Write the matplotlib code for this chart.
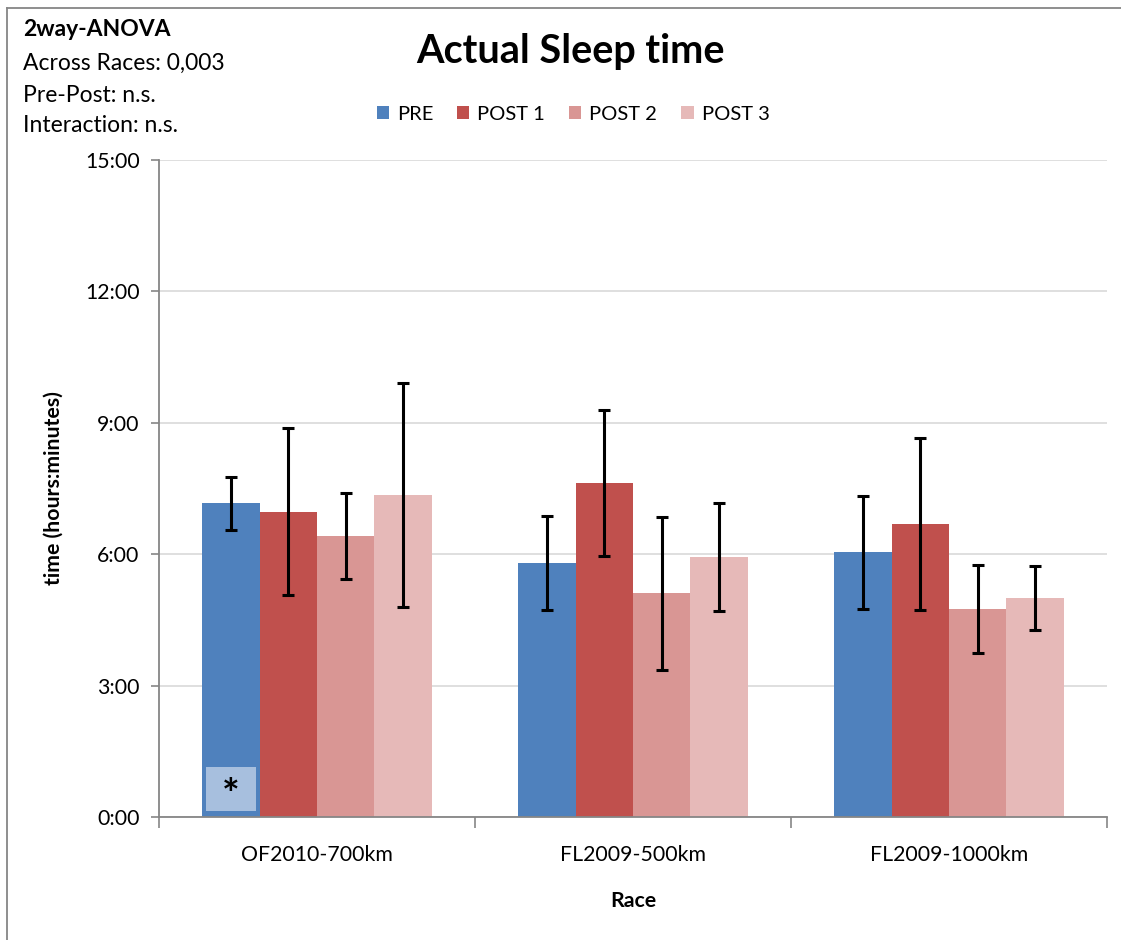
import matplotlib
matplotlib.use("Agg")
import matplotlib.pyplot as plt
import numpy as np
from matplotlib.ticker import FuncFormatter, FixedLocator
from matplotlib.patches import Rectangle
from matplotlib.lines import Line2D

plt.rcParams['font.family'] = ['Lato', 'DejaVu Sans']

races = ["OF2010-700km", "FL2009-500km", "FL2009-1000km"]
series = ["PRE", "POST 1", "POST 2", "POST 3"]
# values in hours
pre = [7.16, 5.80, 6.05]
post1 = [6.97, 7.62, 6.69]
post2 = [6.41, 5.11, 4.75]
post3 = [7.36, 5.93, 5.00]
pre_err = [0.60, 1.07, 1.29]
post1_err = [1.91, 1.67, 1.96]
post2_err = [0.98, 1.75, 1.00]
post3_err = [2.56, 1.23, 0.74]
colors = ["#4F81BD", "#C0504D", "#D99694", "#E6B9B8"]
yticks = [0, 3, 6, 9, 12, 15]

values = [pre, post1, post2, post3]
errs = [pre_err, post1_err, post2_err, post3_err]

fig = plt.figure(figsize=(11.21, 9.40), dpi=100)
ax = fig.add_axes([159/1121, 1-817/940, (1107-159)/1121, (817-160)/940])

n = len(series)
w = 1/5.5
x = np.arange(len(races))
for i in range(n):
    pos = x - 2*w + w/2 + i*w
    ax.bar(pos, values[i], width=w, color=colors[i], edgecolor='none', zorder=2)
    ax.errorbar(pos, values[i], yerr=errs[i], fmt='none', ecolor='black',
                elinewidth=2.2, capsize=4, capthick=2.2, zorder=3)

# asterisk box on first PRE bar
bx = x[0] - 2*w + w/2
ax.add_patch(Rectangle((bx - w*0.43, 0.14), w*0.86, 1.0, facecolor="#A7BFDE",
                       edgecolor='none', zorder=4))
ax.text(bx, 0.45, "*", ha='center', va='center', fontsize=30, fontweight='bold',
        color='black', zorder=5)

ax.set_xlim(-0.5, len(races) - 0.5)
ax.set_ylim(0, 15)
ax.yaxis.set_major_locator(FixedLocator(yticks))
ax.yaxis.set_major_formatter(FuncFormatter(lambda v, p: f"{int(v)}:{int(round((v % 1)*60)):02d}"))
ax.set_xticks(x)
ax.set_xticklabels(races, fontsize=15.3)
ax.xaxis.set_minor_locator(FixedLocator(np.arange(-0.5, len(races), 1.0)))
ax.tick_params(axis='x', which='major', length=0, pad=20)
ax.tick_params(axis='x', which='minor', length=8, color='#868686', width=1.2)
ax.tick_params(axis='y', length=6, color='#868686', width=1.2, labelsize=15.3, pad=8)
ax.grid(axis='y', color='#D9D9D9', linewidth=1.2, zorder=0)
ax.set_axisbelow(True)
for s in ['top', 'right']:
    ax.spines[s].set_visible(False)
for s in ['left', 'bottom']:
    ax.spines[s].set_color('#868686')
    ax.spines[s].set_linewidth(1.3)

ax.set_ylabel("time (hours:minutes)", fontsize=15.3, fontweight='bold')
ax.yaxis.set_label_coords((64-159)/948, 0.5)
ax.set_xlabel("Race", fontsize=15.3, fontweight='bold')
ax.xaxis.set_label_coords((633-159)/948, -(891-817)/657)

fig.text(570/1121, 1-52/940, "Actual Sleep time", ha='center', va='center',
         fontsize=28.5, fontweight='bold')

fig.text(23/1121, 1-30/940, "2way-ANOVA", ha='left', va='center', fontsize=16.5, fontweight='bold')
fig.text(23/1121, 1-63/940, "Across Races: 0,003", ha='left', va='center', fontsize=16.5)
fig.text(23/1121, 1-95/940, "Pre-Post: n.s.", ha='left', va='center', fontsize=16.5)
fig.text(23/1121, 1-126/940, "Interaction: n.s.", ha='left', va='center', fontsize=16.5)

handles = [Rectangle((0, 0), 1, 1, facecolor=c, edgecolor='none') for c in colors]
fig.legend(handles, series, loc='center', bbox_to_anchor=(573/1121, 1-114/940), ncol=4,
           frameon=False, fontsize=14.5, handlelength=0.6, handleheight=0.6,
           handletextpad=0.4, columnspacing=1.2)

# chart frame (left and top)
fig.add_artist(Line2D([7/1121, 7/1121], [0, 1-8/940], color='#868686', linewidth=1.3))
fig.add_artist(Line2D([7/1121, 1], [1-8/940, 1-8/940], color='#868686', linewidth=1.3))

fig.savefig("out.png", dpi=100)
